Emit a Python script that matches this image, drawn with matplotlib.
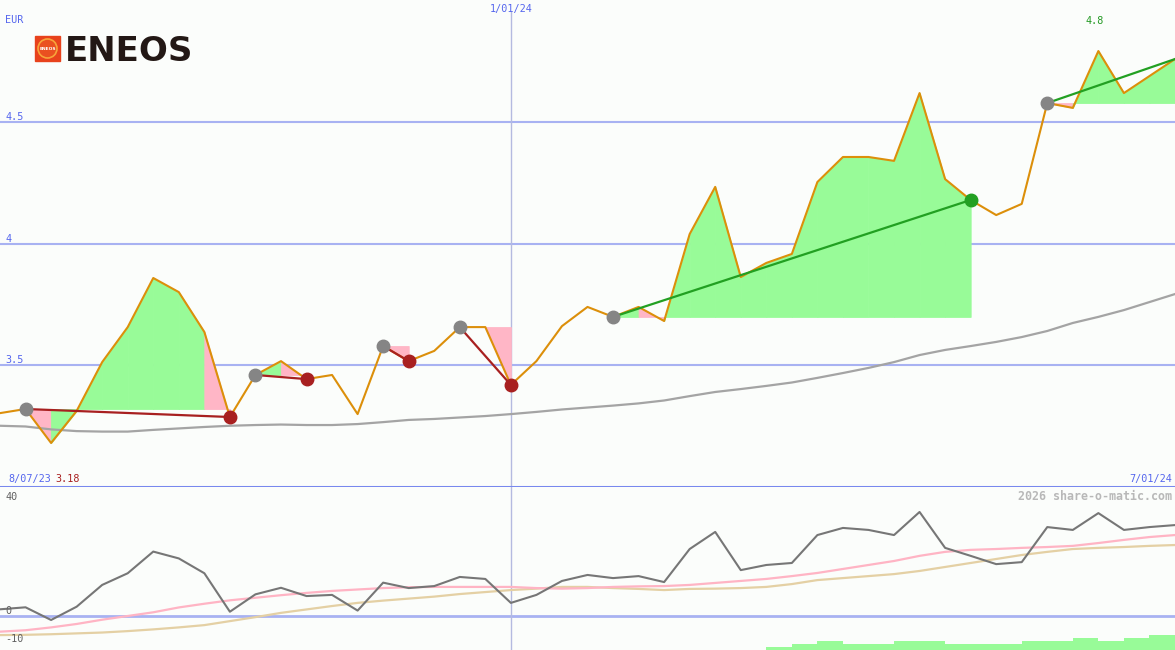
import numpy as np
import matplotlib.pyplot as plt
import matplotlib.transforms as mtransforms
from matplotlib.patches import Rectangle, Ellipse

# weekly closes, 14 Aug 2023 .. 1 Jul 2024 (EUR)
weeks = np.arange(47)
price = [3.302, 3.319, 3.179, 3.311, 3.512, 3.656, 3.858, 3.800, 3.636, 3.286,
         3.459, 3.516, 3.442, 3.459, 3.298, 3.578, 3.516, 3.558, 3.656, 3.656,
         3.418, 3.516, 3.660, 3.739, 3.698, 3.739, 3.681, 4.039, 4.233, 3.862,
         3.920, 3.957, 4.253, 4.356, 4.356, 4.340, 4.619, 4.265, 4.179, 4.117,
         4.163, 4.578, 4.558, 4.792, 4.619, 4.689, 4.759]
avg_long = [3.250, 3.247, 3.235, 3.228, 3.226, 3.226, 3.233, 3.239, 3.245, 3.250,
            3.253, 3.255, 3.253, 3.253, 3.257, 3.265, 3.274, 3.278, 3.284, 3.290,
            3.298, 3.307, 3.317, 3.325, 3.333, 3.342, 3.354, 3.372, 3.389, 3.401,
            3.414, 3.428, 3.447, 3.467, 3.488, 3.512, 3.541, 3.562, 3.578, 3.595,
            3.615, 3.640, 3.673, 3.698, 3.726, 3.759, 3.792]

# trend segments (start week, end week) and weeks whose step is shaded pink
trend_start = [1, 10, 15, 18, 24, 41]
trend_end = [9, 12, 16, 20, 38, 46]
pink_steps = [1, 8, 11, 15, 19, 25, 41]

# lower panel
osc = [2.35, 3.05, -1.4, 3.26, 10.9, 15.0, 22.6, 20.2, 15.0, 1.5,
       7.6, 9.9, 7.0, 7.4, 1.9, 11.7, 9.8, 10.5, 13.7, 13.0,
       4.6, 7.4, 12.3, 14.4, 13.3, 14.0, 11.9, 23.5, 29.5, 16.1,
       17.9, 18.6, 28.4, 30.9, 30.2, 28.4, 36.5, 23.9, 21.1, 18.2,
       18.9, 31.2, 30.2, 36.1, 30.2, 31.2, 31.9]
osc_fast = [-5.5, -5.0, -4.0, -2.8, -1.3, 0.0, 1.3, 3.0, 4.3, 5.5,
            6.4, 7.3, 8.1, 8.8, 9.3, 9.8, 10.1, 10.2, 10.2, 10.2,
            10.2, 9.8, 9.6, 9.8, 10.2, 10.4, 10.5, 10.9, 11.6, 12.3,
            13.0, 14.0, 15.1, 16.5, 17.9, 19.3, 21.1, 22.5, 23.2, 23.5,
            23.9, 24.2, 24.6, 25.6, 26.7, 27.7, 28.4]
osc_slow = [-6.7, -6.6, -6.4, -6.1, -5.8, -5.3, -4.7, -4.0, -3.2, -1.8,
            -0.4, 1.1, 2.3, 3.5, 4.6, 5.4, 6.1, 6.8, 7.7, 8.4,
            9.1, 9.6, 10.2, 10.2, 9.8, 9.5, 9.1, 9.5, 9.6, 9.8,
            10.2, 11.2, 12.6, 13.3, 14.0, 14.7, 15.8, 17.2, 18.6, 20.0,
            21.4, 22.5, 23.5, 23.9, 24.2, 24.6, 24.9]
bar_weeks = np.arange(30, 46)
bar_levels = [1, 2, 3, 2, 2, 3, 3, 2, 2, 2, 3, 3, 4, 3, 4, 5]

price_ticks = [3.5, 4, 4.5]
osc_ticks = [40, 0, -10]
first_date, mid_date, last_date = '8/07/23', '1/01/24', '7/01/24'

W, H = 1175, 650
bg = '#fbfdfb'
blue_txt = '#5566ee'
grid_c = '#a8b2f2'
mono = 'DejaVu Sans Mono'
fs = 7.3

fig = plt.figure(figsize=(W / 100, H / 100), dpi=100, facecolor=bg)
ax = fig.add_axes([0, 163 / H, 1, 487 / H])
ax2 = fig.add_axes([0, 0, 1, 163 / H])
for a in (ax, ax2):
    a.set_xlim(0, 46)
    a.axis('off')
ax.set_ylim(2.998, 5.002)
ax2.set_ylim(-11.93, 45.26)

# ---- main panel
for t in price_ticks:
    ax.axhline(t, color=grid_c, lw=1.5, zorder=1)
ax.axvline(20, ymax=1 - 12 / 487, color='#b4bae0', lw=1, zorder=1)
ax.axhline(2.998, color='#7888ee', lw=2.2, zorder=6)

p = np.array(price)
for s, e in zip(trend_start, trend_end):
    base = p[s]
    for k in range(s, e):
        c = '#ffb6c6' if k in pink_steps else '#98fb98'
        ax.fill_between([k, k + 1], [p[k], p[k + 1]], base, facecolor=c,
                        edgecolor=c, lw=0.6, zorder=2)

ax.plot(weeks, avg_long, color='#a4a4a4', lw=1.6, zorder=3)
ax.plot(weeks, price, color='#dc8f0a', lw=1.5, zorder=4)

for s, e in zip(trend_start, trend_end):
    up = p[e] > p[s]
    lc = '#22a022' if up else '#a82020'
    ax.plot([s, e], [p[s], p[e]], color=lc, lw=1.6, zorder=5)
    ax.plot(s, p[s], 'o', ms=9, color='#858585', zorder=6)
    if e < weeks[-1]:
        ax.plot(e, p[e], 'o', ms=9, color=lc, zorder=6)

lbl = mtransforms.blended_transform_factory(ax.transAxes, ax.transData)
for t in price_ticks:
    ax.text(5 / W, t, f'{t:g}', transform=lbl, va='bottom', ha='left',
            fontsize=fs, family=mono, color=blue_txt, zorder=7)

top = mtransforms.blended_transform_factory(ax.transData, ax.transAxes)
imax = int(np.argmax(p))
ax.text(weeks[imax] - 0.15, 1 - 21 / 487, f'{p.max():.1f}', transform=top,
        ha='center', va='center', fontsize=fs, family=mono, color='#229922')
ax.text(20, 1 - 9 / 487, mid_date, transform=top, ha='center', va='center',
        fontsize=fs, family=mono, color=blue_txt)

fig.text(5 / W, 1 - 20 / H, 'EUR', ha='left', va='center', fontsize=fs,
         family=mono, color=blue_txt)
fig.text(8 / W, 1 - 479 / H, first_date, ha='left', va='center', fontsize=fs,
         family=mono, color=blue_txt)
fig.text(55 / W, 1 - 479 / H, f'{p.min():.2f}', ha='left', va='center',
         fontsize=fs, family=mono, color='#a82020')
fig.text(1 - 3 / W, 1 - 479 / H, last_date, ha='right', va='center', fontsize=fs,
         family=mono, color=blue_txt)
fig.text(1 - 3 / W, 1 - 496 / H, '2026 share-o-matic.com', ha='right', va='center',
         fontsize=8.4, family=mono, color='#b8b8b8', fontweight='bold')

# logo
fig.add_artist(Rectangle((35 / W, 1 - 61 / H), 25 / W, 25 / H,
                         transform=fig.transFigure, color='#e8421c'))
fig.add_artist(Ellipse((47.5 / W, 1 - 48.5 / H), 19 / W, 19 / H,
                       transform=fig.transFigure, facecolor='#ea5020',
                       edgecolor='#f7a43a', lw=1.2))
fig.text(47.5 / W, 1 - 48.5 / H, 'ENEOS', ha='center', va='center',
         fontsize=3.2, fontweight='bold', color='white')
fig.text(65 / W, 1 - 61 / H, 'ENEOS', ha='left', va='baseline', fontsize=24.5,
         fontweight='bold', color='#231815', family='DejaVu Sans')

# ---- lower panel
ax2.axhline(0, color=grid_c, lw=2, zorder=1)
ax2.axvline(20, color='#b4bae0', lw=1, zorder=1)
ax2.plot(weeks, osc_slow, color='#e4d0a4', lw=1.6, zorder=3)
ax2.plot(weeks, osc_fast, color='#ffb4c4', lw=1.6, zorder=3)
ax2.plot(weeks, osc, color='#767676', lw=1.5, zorder=4)
olbl = mtransforms.blended_transform_factory(ax2.transAxes, ax2.transData)
for t in osc_ticks:
    ax2.text(5 / W, t, f'{t}', transform=olbl, va='bottom', ha='left',
             fontsize=fs, family=mono, color='#606060', zorder=7)

ax3 = ax2.twinx()
ax3.set_ylim(0, 54.3)
ax3.axis('off')
ax3.bar(bar_weeks, bar_levels, width=1, align='edge', color='#98fb98', lw=0)

fig.savefig('out.png', dpi=100, facecolor=bg)
